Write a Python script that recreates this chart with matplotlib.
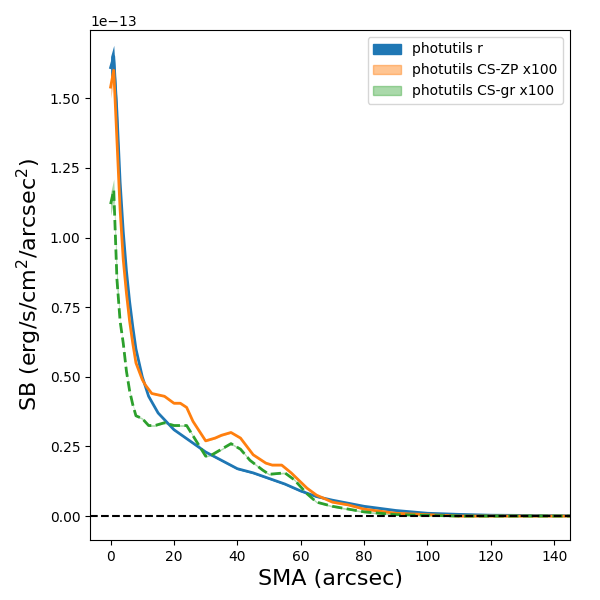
import numpy as np
import matplotlib
matplotlib.use("Agg")
import matplotlib.pyplot as plt
import matplotlib.patches as mpatches

x_r = [0, 1, 2, 3, 4, 5, 6, 7, 8, 10, 12, 15, 20, 25, 30, 35, 40, 45, 50, 55, 60, 65, 70, 80, 90, 100, 110, 120, 147]
sb_r = [1.61, 1.65, 1.45, 1.2, 1.02, 0.88, 0.77, 0.68, 0.6, 0.5, 0.43, 0.37, 0.31, 0.27, 0.23, 0.2, 0.17, 0.155, 0.135, 0.115, 0.09, 0.07, 0.057, 0.035, 0.02, 0.01, 0.006, 0.003, 0.001]

x_zp = [0, 1, 2, 3, 4, 5, 6, 7, 8, 10, 11, 13, 17, 20, 22, 24, 26, 30, 33, 35, 38, 41, 45, 49, 51, 54, 57, 62, 65, 70, 75, 80, 90, 100, 110, 120, 147]
sb_zp = [1.54, 1.6, 1.35, 1.1, 0.92, 0.8, 0.7, 0.62, 0.55, 0.49, 0.47, 0.44, 0.43, 0.405, 0.405, 0.39, 0.34, 0.27, 0.28, 0.29, 0.3, 0.28, 0.22, 0.19, 0.183, 0.183, 0.155, 0.1, 0.075, 0.05, 0.04, 0.025, 0.01, 0.005, 0.0, 0.0, 0.0]

x_gr = [0, 1, 2, 3, 4, 5, 6, 7, 8, 10, 12, 14, 17, 20, 24, 27, 30, 32, 35, 38, 41, 44, 48, 50, 55, 58, 62, 65, 70, 80, 90, 110, 147]
sb_gr = [1.12, 1.17, 0.85, 0.7, 0.62, 0.52, 0.45, 0.4, 0.36, 0.35, 0.325, 0.325, 0.335, 0.325, 0.325, 0.27, 0.215, 0.22, 0.24, 0.26, 0.24, 0.2, 0.165, 0.15, 0.155, 0.13, 0.08, 0.05, 0.035, 0.015, 0.005, 0.0, 0.0]

scale = 1e-13
fig, ax = plt.subplots(figsize=(6, 6), dpi=100)

def band(x, y, c, a, ls):
    x = np.array(x); y = np.array(y) * scale
    err = np.where(x < 3, 0.04e-13, 0.003e-13)
    ax.fill_between(x, y - err, y + err, color=c, alpha=a, lw=0)
    ax.plot(x, y, color=c, lw=2, ls=ls)

band(x_r, sb_r, "C0", 1.0, "-")
band(x_zp, sb_zp, "C1", 0.4, "-")
band(x_gr, sb_gr, "C2", 0.4, "--")
ax.axhline(0, color="k", ls="--")

handles = [mpatches.Patch(color="C0", label="photutils r"),
           mpatches.Patch(color="C1", alpha=0.45, label="photutils CS-ZP x100"),
           mpatches.Patch(color="C2", alpha=0.4, label="photutils CS-gr x100")]
ax.legend(handles=handles, loc="upper right")
ax.set_xlim(-6.5, 145)
ax.set_ylim(-0.086e-13, 1.745e-13)
ax.set_xlabel("SMA (arcsec)", fontsize=16)
ax.set_ylabel("SB (erg/s/cm$^2$/arcsec$^2$)", fontsize=16)
fig.subplots_adjust(left=0.15, right=0.95, top=0.95, bottom=0.1)
fig.savefig("out.png")
